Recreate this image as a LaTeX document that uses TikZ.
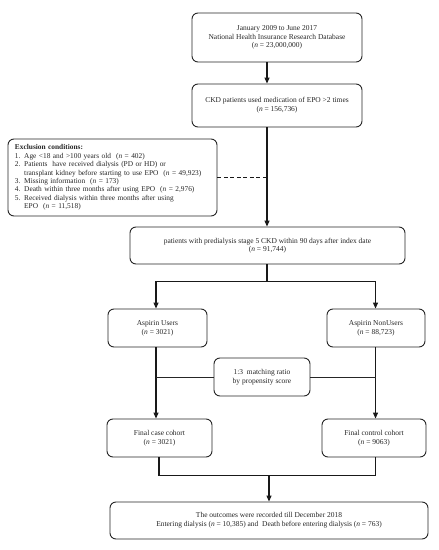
\documentclass[tikz,border=0pt]{standalone}
\usepackage{fontspec}
\setmainfont{Liberation Serif}
\usetikzlibrary{arrows.meta,calc}
\begin{document}
\begin{tikzpicture}[x=1bp,y=-1bp,
  box/.style={draw=black!85,line width=0.9bp,rounded corners=6bp,inner sep=0pt,align=center,
    font=\fontsize{7.5}{8.7}\selectfont,text=black!85},
  conn/.style={draw=black!90,line width=1.2bp},
  arr/.style={conn,-{Triangle[length=6bp,width=5bp]}},
  thin/.style={draw=black!85,line width=0.8bp}]
\useasboundingbox (0,0) rectangle (439,550);
\fill[white] (0,0) rectangle (439,550);
\node[box,minimum width=170bp,minimum height=49bp] (b1) at (277,37.5)
  {January 2009 to June 2017\\National Health Insurance Research Database\\(\textit{n} = 23,000,000)};
\node[box,minimum width=170bp,minimum height=43bp] (b2) at (277,105.5)
  {CKD patients used medication of EPO >2 times\\(\textit{n} = 156,736)};
\node[box,minimum width=209bp,minimum height=77bp,align=left,inner xsep=7bp,text width=195bp,
  font=\fontsize{7.4}{8.5}\selectfont] (ex) at (112.5,177.5)
  {\textbf{Exclusion conditions:}\\
  1. Age <18 and >100 years old\ \ (\textit{n} = 402)\\
  2. Patients\ \ have received dialysis (PD or HD) or\\
  \hphantom{2. }transplant kidney before starting to use EPO\ \ (\textit{n} = 49,923)\\
  3. Missing information\ \ (\textit{n} = 173)\\
  4. Death within three months after using EPO\ \ (\textit{n} = 2,976)\\
  5. Received dialysis within three months after using\\
  \hphantom{5. }EPO\ \ (\textit{n} = 11,518)};
\node[box,minimum width=275bp,minimum height=37bp] (b3) at (267.5,245.5)
  {patients with predialysis stage 5 CKD within 90 days after index date\\(\textit{n} = 91,744)};
\node[box,minimum width=99bp,minimum height=38bp] (us) at (157.5,328)
  {Aspirin Users\\(\textit{n} = 3021)};
\node[box,minimum width=98bp,minimum height=38bp] (nu) at (376,328)
  {Aspirin NonUsers\\(\textit{n} = 88,723)};
\node[box,minimum width=96bp,minimum height=38bp] (ma) at (262,377)
  {1:3\ \ matching ratio\\by propensity score};
\node[box,minimum width=105bp,minimum height=38bp] (ca) at (159.5,438)
  {Final case cohort\\(\textit{n} = 3021)};
\node[box,minimum width=104bp,minimum height=38bp] (co) at (374,438)
  {Final control cohort\\(\textit{n} = 9063)};
\node[box,minimum width=318bp,minimum height=37bp] (fi) at (269,520.5)
  {The outcomes were recorded till December 2018\\Entering dialysis (\textit{n} = 10,385) and\ \ Death before entering dialysis (\textit{n} = 763)};
% connectors
\coordinate (mx) at (267,0);
\coordinate (lx) at (156,0);
\coordinate (rx) at (375.5,0);
\draw[arr] (b1.south -| mx) -- (b2.north -| mx);
\draw[arr] (b2.south -| mx) -- (b3.north -| mx);
\draw[conn,dashed,dash pattern=on 4bp off 2.5bp] (ex.east) -- (ex.east -| mx);
\coordinate (j1) at ($(b3.south -| mx)+(0,17)$);
\draw[conn] (b3.south -| mx) -- (j1);
\draw[arr] (j1) -| (us.north -| lx);
\draw[arr] (j1) -| (nu.north -| rx);
\draw[arr] (us.south -| lx) -- (ca.north -| lx);
\draw[arr] (nu.south -| rx) -- (co.north -| rx);
\draw[thin] (ma.west) -- (ma.west -| lx);
\draw[thin] (ma.east) -- (ma.east -| rx);
\coordinate (lx2) at (159,0);
\coordinate (j2) at ($(fi.north -| mx)+(2,-26)$);
\draw[conn] (ca.south -| lx2) |- (j2) -| (co.south -| rx);
\draw[arr] (j2) -- (j2 |- fi.north);
\end{tikzpicture}
\end{document}
